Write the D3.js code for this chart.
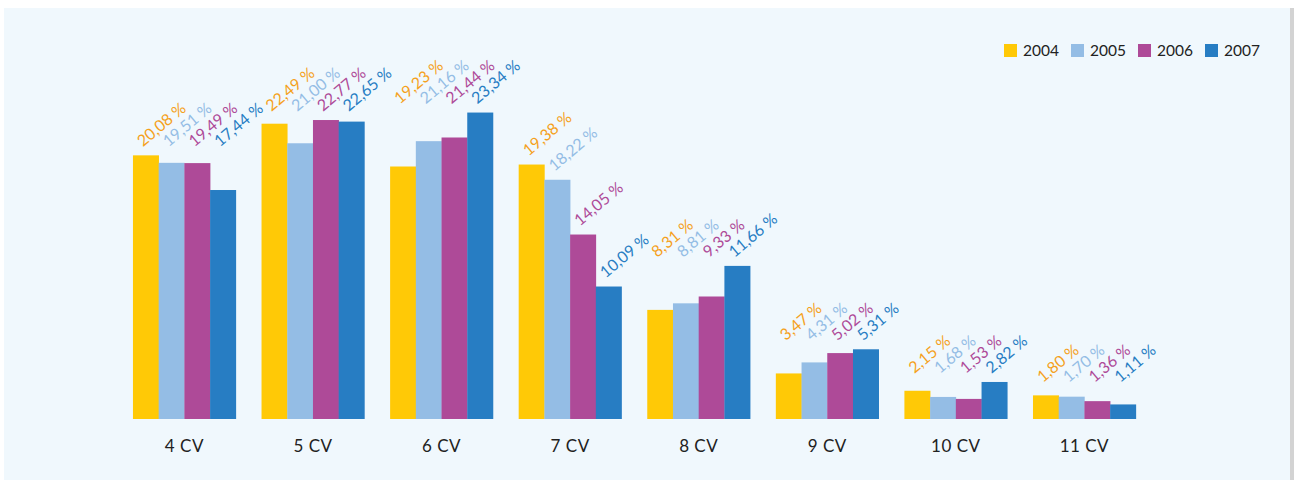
<!DOCTYPE html>
<html>
<head>
<meta charset="utf-8">
<script src="https://cdn.jsdelivr.net/npm/d3@7"></script>
<style>
  html, body { margin: 0; padding: 0; background: #ffffff; }
  svg { display: block; }
</style>
</head>
<body>
<svg id="chart" width="1294" height="480"></svg>
<script>
// ---- data ----
const categories = ["4 CV", "5 CV", "6 CV", "7 CV", "8 CV", "9 CV", "10 CV", "11 CV"];
const years = ["2004", "2005", "2006", "2007"];
const values2004 = [20.08, 22.49, 19.23, 19.38, 8.31, 3.47, 2.15, 1.80];
const values2005 = [19.51, 21.00, 21.16, 18.22, 8.81, 4.31, 1.68, 1.70];
const values2006 = [19.49, 22.77, 21.44, 14.05, 9.33, 5.02, 1.53, 1.36];
const values2007 = [17.44, 22.65, 23.34, 10.09, 11.66, 5.31, 2.82, 1.11];
const seriesValues = [values2004, values2005, values2006, values2007];
// groups whose labels follow each bar's own height instead of the group's tallest bar
const staggeredLabelGroups = ["7 CV"];

// ---- style ----
const barColors = ["#FFC906", "#94BDE5", "#AE4A98", "#277DC3"];
const labelColors = ["#F5A11C", "#94BDE5", "#AE4A98", "#277DC3"];
const font = "Lato, 'Open Sans', sans-serif";

const svg = d3.select("#chart");

// panel background
svg.append("rect").attr("x", 4).attr("y", 8).attr("width", 1286).attr("height", 472).attr("fill", "#F0F8FD");
svg.append("rect").attr("x", 1290).attr("y", 8).attr("width", 4).attr("height", 472).attr("fill", "#D3D3D3");

const baseline = 419;
const x0 = d3.scaleBand().domain(categories).range([120.1, 1148.7]).paddingInner(0.2).paddingOuter(0.1);
const x1 = d3.scaleBand().domain(years).range([0, x0.bandwidth()]);
const y = d3.scaleLinear().domain([0, 25]).range([baseline, baseline - 25 * 13.13]);

const fmt = v => d3.format(".2f")(v).replace(".", ",") + " %";

const groups = svg.append("g").selectAll("g.grp")
  .data(categories.map((c, i) => ({
    cat: c,
    items: years.map((yr, j) => ({ yr, j, v: seriesValues[j][i] })),
    max: d3.max(seriesValues, s => s[i])
  })))
  .join("g")
  .attr("class", "grp")
  .attr("transform", d => `translate(${x0(d.cat)},0)`);

groups.selectAll("rect")
  .data(d => d.items)
  .join("rect")
  .attr("x", d => x1(d.yr))
  .attr("y", d => y(d.v))
  .attr("width", x1.bandwidth() + 0.3)
  .attr("height", d => baseline - y(d.v))
  .attr("fill", d => barColors[d.j]);

groups.each(function(g) {
  const stag = staggeredLabelGroups.includes(g.cat);
  d3.select(this).selectAll("text.val")
    .data(g.items)
    .join("text")
    .attr("class", "val")
    .attr("transform", d => {
      const ly = Math.min((stag ? y(d.v) : y(g.max)) - 8, baseline - 36);
      return `translate(${x1(d.yr) + 10},${ly}) rotate(-40)`;
    })
    .attr("font-family", font)
    .attr("font-size", 16)
    .attr("fill", d => labelColors[d.j])
    .text(d => fmt(d.v));
});

// category axis labels (no axis line)
const xAxis = d3.axisBottom(x0).tickSize(0).tickPadding(21);
const ax = svg.append("g").attr("transform", `translate(0,${baseline})`).call(xAxis);
ax.select(".domain").remove();
ax.selectAll("text").attr("font-family", font).attr("font-size", 17)
  .attr("letter-spacing", 0.5).attr("fill", "#222222");

// legend
const legend = svg.append("g").selectAll("g")
  .data(years)
  .join("g")
  .attr("transform", (d, i) => `translate(${1004 + i * 67},44)`);
legend.append("rect").attr("width", 13).attr("height", 13).attr("fill", (d, i) => barColors[i]);
legend.append("text").attr("x", 19).attr("y", 12).attr("font-family", font).attr("font-size", 15.5)
  .attr("fill", "#222222").text(d => d);
</script>
</body>
</html>
